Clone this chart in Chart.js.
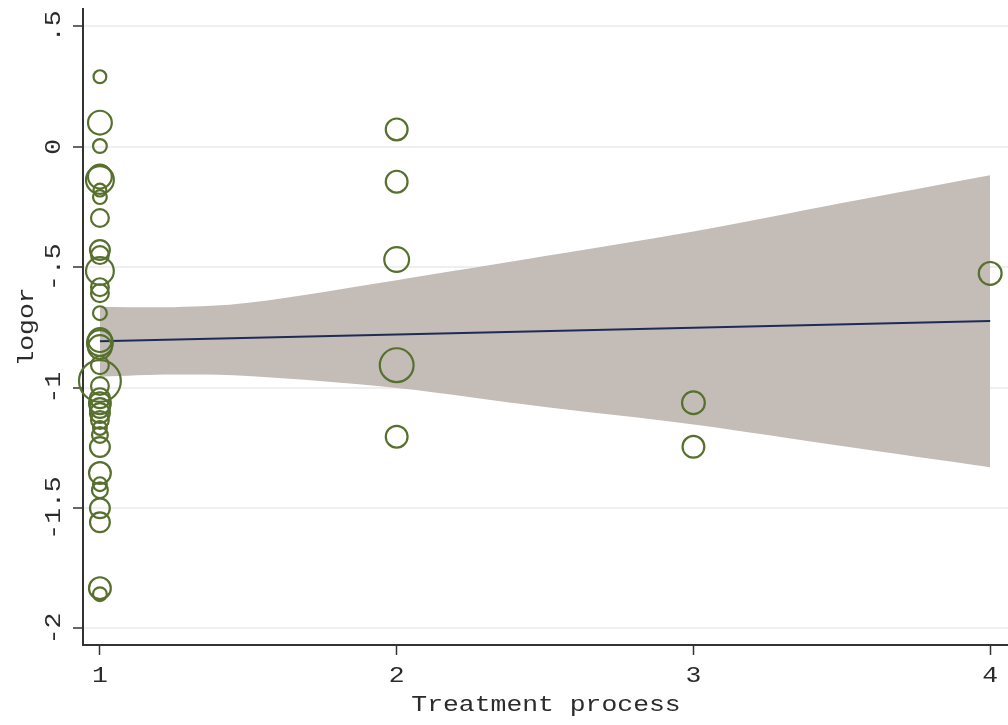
<!DOCTYPE html>
<html>
<head>
<meta charset="utf-8">
<script src="https://cdn.jsdelivr.net/npm/chart.js@4/dist/chart.umd.min.js"></script>
<style>
html,body{margin:0;padding:0;background:#fff;}
#c{display:block;}
</style>
</head>
<body>
<canvas id="c" width="1008" height="725"></canvas>
<script>
// ---- data ----
const treatment1Logor  = [0.291, 0.100, 0.003, -0.124, -0.138, -0.180, -0.209, -0.296, -0.429, -0.450, -0.516, -0.583, -0.608, -0.691, -0.803, -0.815, -0.832, -0.907, -0.973, -0.994, -1.044, -1.065, -1.085, -1.106, -1.135, -1.168, -1.197, -1.247, -1.355, -1.401, -1.426, -1.501, -1.559, -1.833, -1.858];
const treatment1Weight = [7.5, 13, 8, 13, 15, 7.5, 8, 10, 11, 10, 15, 10, 10, 8, 13, 14, 13, 10, 22, 10, 11, 12, 11, 11, 10, 8, 9, 11, 12, 8, 9, 11, 11, 12, 8];
const treatment2Logor  = [0.072, -0.145, -0.468, -0.907, -1.204];
const treatment2Weight = [12, 12, 13.5, 18, 12];
const treatment3Logor  = [-1.063, -1.246];
const treatment3Weight = [12.5, 12];
const treatment4Logor  = [-0.526];
const treatment4Weight = [12.5];

const fitX = [1, 4];
const fitY = [-0.808, -0.724];
const bandX     = [1, 1.25, 1.5, 2, 2.5, 3, 3.5, 4];
const bandUpper = [-0.664, -0.666, -0.648, -0.554, -0.454, -0.352, -0.234, -0.118];
const bandLower = [-0.955, -0.946, -0.952, -1.002, -1.081, -1.153, -1.243, -1.331];

const xTicks = [1, 2, 3, 4];
const xTickLabels = ['1', '2', '3', '4'];
const yTicks = [0.5, 0, -0.5, -1, -1.5, -2];
const yTickLabels = ['.5', '0', '-.5', '-1', '-1.5', '-2'];
const xTitle = 'Treatment process';
const yTitle = 'logor';

// ---- build library structures ----
const groups = [
  [1, treatment1Logor, treatment1Weight],
  [2, treatment2Logor, treatment2Weight],
  [3, treatment3Logor, treatment3Weight],
  [4, treatment4Logor, treatment4Weight]
];
const bubbles = [];
groups.forEach(([gx, ys, ws]) => ys.forEach((v, i) => bubbles.push({x: gx, y: v, r: ws[i] - 1.1})));

const FONT = '22px "Liberation Mono", monospace';
const TEXT = '#2b2b2b';
const STRETCH = 1.2;

function drawText(ctx, text, x, y, rotated) {
  ctx.save();
  ctx.translate(x, y);
  if (rotated) ctx.rotate(-Math.PI / 2);
  ctx.scale(STRETCH, 1);
  ctx.font = FONT;
  ctx.fillStyle = TEXT;
  ctx.textAlign = 'center';
  ctx.textBaseline = 'alphabetic';
  ctx.fillText(text, 0, 0);
  ctx.restore();
}

const labelPlugin = {
  id: 'labels',
  afterDraw(chart) {
    const ctx = chart.ctx;
    const xs = chart.scales.x, ys = chart.scales.y;
    yTicks.forEach((v, i) => drawText(ctx, yTickLabels[i], 60, ys.getPixelForValue(v), true));
    xTicks.forEach((v, i) => drawText(ctx, xTickLabels[i], xs.getPixelForValue(v), 682, false));
    const ca = chart.chartArea;
    drawText(ctx, yTitle, 33, (ca.top + ca.bottom) / 2, true);
    drawText(ctx, xTitle, 546, 711, false);
  }
};

const bgPlugin = {
  id: 'bg',
  beforeDraw(chart) {
    const c = chart.ctx;
    c.save(); c.fillStyle = '#ffffff'; c.fillRect(0, 0, chart.width, chart.height); c.restore();
  }
};

new Chart(document.getElementById('c'), {
  type: 'bubble',
  data: {
    datasets: [
      {
        type: 'bubble',
        label: 'studies',
        data: bubbles,
        backgroundColor: 'rgba(0,0,0,0)',
        borderColor: '#57702e',
        borderWidth: 2.2,
        hoverBorderWidth: 2.2,
        clip: false,
        order: 0
      },
      {
        type: 'line',
        label: 'fit',
        data: fitX.map((x, i) => ({x: x, y: fitY[i]})),
        borderColor: '#1f2b57',
        borderWidth: 2,
        pointRadius: 0,
        fill: false,
        order: 1
      },
      {
        type: 'line',
        label: 'upper',
        data: bandX.map((x, i) => ({x: x, y: bandUpper[i]})),
        borderWidth: 0,
        borderColor: 'rgba(0,0,0,0)',
        backgroundColor: '#c4bcb7',
        pointRadius: 0,
        tension: 0.35,
        fill: '+1',
        order: 2
      },
      {
        type: 'line',
        label: 'lower',
        data: bandX.map((x, i) => ({x: x, y: bandLower[i]})),
        borderWidth: 0,
        borderColor: 'rgba(0,0,0,0)',
        pointRadius: 0,
        tension: 0.35,
        fill: false,
        order: 3
      }
    ]
  },
  options: {
    responsive: false,
    animation: false,
    devicePixelRatio: 1,
    layout: { autoPadding: false, padding: { top: 9, right: 0, left: 0, bottom: 0 } },
    plugins: { legend: { display: false }, tooltip: { enabled: false } },
    events: [],
    scales: {
      x: {
        type: 'linear',
        min: 0.943,
        max: 4.06,
        afterBuildTicks(s) { s.ticks = xTicks.map(v => ({value: v})); },
        afterFit(s) { s.height = 80; },
        ticks: { display: false },
        grid: {
          display: true,
          drawOnChartArea: false,
          drawTicks: true,
          tickLength: 10,
          tickColor: '#333333',
          tickWidth: 1.5,
          color: 'rgba(0,0,0,0)'
        },
        border: { display: true, color: '#333333', width: 2 }
      },
      y: {
        type: 'linear',
        min: -2.069,
        max: 0.572,
        afterBuildTicks(s) { s.ticks = yTicks.map(v => ({value: v})); },
        afterFit(s) { s.width = 83; },
        ticks: { display: false },
        grid: {
          display: true,
          drawOnChartArea: true,
          drawTicks: true,
          tickLength: 10,
          tickColor: '#333333',
          tickWidth: 1.5,
          color: '#efefef',
          lineWidth: 2
        },
        border: { display: true, color: '#333333', width: 2 }
      }
    }
  },
  plugins: [bgPlugin, labelPlugin]
});
</script>
</body>
</html>
